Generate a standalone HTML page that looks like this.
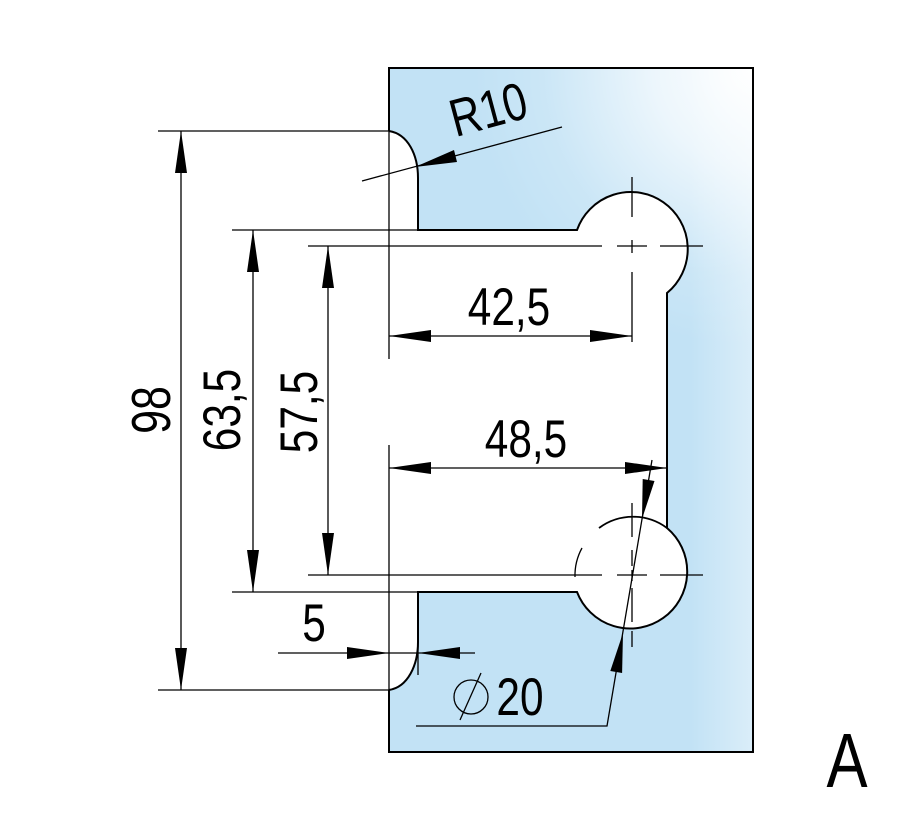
<!DOCTYPE html>
<html>
<head>
<meta charset="utf-8">
<style>
  html,body{margin:0;padding:0;background:#fff;}
  svg{display:block;}
  text{font-family:"Liberation Sans", Arial, sans-serif; fill:#000;}
</style>
</head>
<body>
<svg width="909" height="820" viewBox="0 0 909 820" xmlns="http://www.w3.org/2000/svg">
  <defs>
    <radialGradient id="rg" cx="753" cy="68" r="280" gradientUnits="userSpaceOnUse">
      <stop offset="0" stop-color="#ffffff" stop-opacity="1"/>
      <stop offset="0.35" stop-color="#ffffff" stop-opacity="0.7"/>
      <stop offset="0.75" stop-color="#ffffff" stop-opacity="0.15"/>
      <stop offset="1" stop-color="#ffffff" stop-opacity="0"/>
    </radialGradient>
    <linearGradient id="lg" x1="690" y1="0" x2="753" y2="0" gradientUnits="userSpaceOnUse">
      <stop offset="0" stop-color="#ffffff" stop-opacity="0"/>
      <stop offset="1" stop-color="#ffffff" stop-opacity="0.4"/>
    </linearGradient>
  </defs>

  <!-- glass plate -->
  <rect x="389" y="68" width="364" height="684" fill="#c2e2f5"/>
  <rect x="389" y="68" width="364" height="684" fill="url(#lg)"/>
  <rect x="389" y="68" width="364" height="684" fill="url(#rg)"/>

  <!-- cutout fill -->
  <path d="M389,131 C408,134 418,155 418,178 L418,230 L577,230 A57,57 0 1,1 667,293 L667,528 A57,57 0 1,1 577,592 L418,592 L418,642 C418,665 408,687 389,690 Z" fill="#ffffff"/>

  <!-- plate outline -->
  <path d="M389,131 L389,68 L753,68 L753,752 L389,752 L389,690" fill="none" stroke="#000" stroke-width="2"/>

  <!-- cutout outline -->
  <path d="M389,131 C408,134 418,155 418,178 L418,230 L577,230 A57,57 0 1,1 667,293 L667,528 A57,57 0 1,1 577,592 L418,592 L418,642 C418,665 408,687 389,690" fill="none" stroke="#000" stroke-width="2"/>
  <!-- lower circle top part (solid) -->
  <path d="M599,528 A57,57 0 0,1 667,528" fill="none" stroke="#000" stroke-width="1.8"/>
  <!-- lower circle left part (hidden) -->
  <path d="M575,577 A57,57 0 0,1 582,548" fill="none" stroke="#000" stroke-width="1.3"/>

  <g stroke="#000" stroke-width="1.3" fill="none">
    <line x1="389" y1="131" x2="389" y2="359"/>
    <line x1="389" y1="445" x2="389" y2="690"/>

    <!-- 98 -->
    <line x1="158" y1="131" x2="389" y2="131"/>
    <line x1="158" y1="690" x2="389" y2="690"/>
    <line x1="181" y1="131" x2="181" y2="690"/>

    <!-- 63,5 -->
    <line x1="232" y1="230" x2="418" y2="230"/>
    <line x1="232" y1="592" x2="418" y2="592"/>
    <line x1="253" y1="230" x2="253" y2="592"/>

    <!-- 57,5 -->
    <line x1="308" y1="246" x2="602" y2="246"/>
    <line x1="617" y1="246" x2="647" y2="246"/>
    <line x1="660" y1="246" x2="703" y2="246"/>
    <line x1="308" y1="575" x2="602" y2="575"/>
    <line x1="617" y1="575" x2="647" y2="575"/>
    <line x1="660" y1="575" x2="703" y2="575"/>
    <line x1="328" y1="246" x2="328" y2="575"/>

    <!-- upper circle vertical center line / extension -->
    <line x1="632" y1="177" x2="632" y2="217"/>
    <line x1="632" y1="240" x2="632" y2="253"/>
    <line x1="632" y1="272" x2="632" y2="342"/>

    <!-- lower circle vertical center line -->
    <line x1="632" y1="503" x2="632" y2="537"/>
    <line x1="632" y1="550" x2="632" y2="566"/>
    <line x1="632" y1="570" x2="632" y2="581"/>
    <line x1="632" y1="588" x2="632" y2="622"/>
    <line x1="632" y1="631" x2="632" y2="647"/>

    <!-- 42,5 -->
    <line x1="389" y1="336" x2="632" y2="336"/>
    <!-- 48,5 -->
    <line x1="389" y1="468" x2="667" y2="468"/>

    <!-- 5 -->
    <line x1="278" y1="653" x2="475" y2="653"/>
    <line x1="418" y1="640" x2="418" y2="675"/>

    <!-- Ø20 leader -->
    <polyline points="416,726 607,726 652,460"/>

    <!-- R10 leader -->
    <line x1="362" y1="181" x2="562" y2="127"/>

    <!-- diameter symbol -->
    <circle cx="471" cy="697" r="17"/>
    <line x1="460" y1="720" x2="481" y2="673"/>
  </g>

  <!-- arrowheads -->
  <g fill="#000">
    <polygon points="181,131 175,173 187,173"/>
    <polygon points="181,690 175,648 187,648"/>
    <polygon points="253,230 247,272 259,272"/>
    <polygon points="253,592 247,550 259,550"/>
    <polygon points="328,246 322,288 334,288"/>
    <polygon points="328,575 322,533 334,533"/>
    <polygon points="389,336 431,330 431,342"/>
    <polygon points="632,336 590,330 590,342"/>
    <polygon points="389,468 431,462 431,474"/>
    <polygon points="667,468 625,462 625,474"/>
    <polygon points="389,653 347,647 347,659"/>
    <polygon points="418,653 460,647 460,659"/>
    <polygon points="642,519 642.7,479 654.5,481"/>
    <polygon points="623,633 610.3,671 622.1,673"/>
    <polygon points="415,167 454,150 457,162"/>
  </g>

  <!-- texts -->
  <text transform="translate(170,410) rotate(-90) scale(0.78,1)" text-anchor="middle" font-size="55">98</text>
  <text transform="translate(240,410) rotate(-90) scale(0.8,1)" text-anchor="middle" font-size="53">63,5</text>
  <text transform="translate(317,412) rotate(-90) scale(0.8,1)" text-anchor="middle" font-size="53">57,5</text>
  <text transform="translate(509,325) scale(0.8,1)" text-anchor="middle" font-size="53">42,5</text>
  <text transform="translate(526,457) scale(0.8,1)" text-anchor="middle" font-size="53">48,5</text>
  <text transform="translate(314,641) scale(0.8,1)" text-anchor="middle" font-size="53">5</text>
  <text transform="translate(520,715) scale(0.8,1)" text-anchor="middle" font-size="53">20</text>
  <text transform="translate(493,127) rotate(-15) scale(0.8,1)" text-anchor="middle" font-size="53">R10</text>
  <text transform="translate(847,787) scale(0.8,1)" text-anchor="middle" font-size="77">A</text>
</svg>
</body>
</html>
